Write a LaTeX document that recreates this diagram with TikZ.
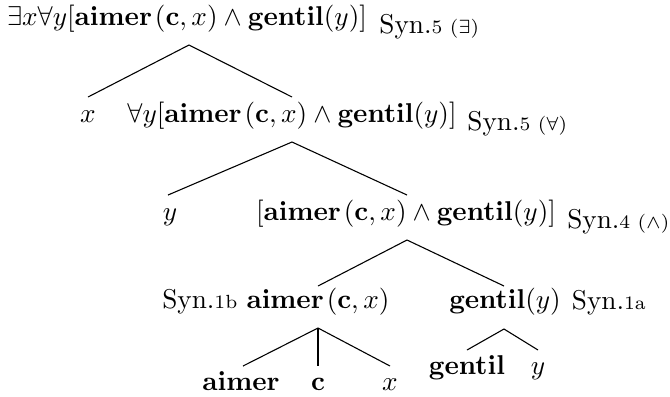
\documentclass[tikz,border=0pt]{standalone}
\newcommand{\aim}{\mathbf{aimer}\mkern2mu}
\begin{document}
\begin{tikzpicture}[x=0.3676pt,y=-0.3676pt,
  tx/.style={inner sep=0pt,anchor=base},
  lab/.style={inner sep=0pt},
  br/.style={line width=0.4pt}]
\useasboundingbox (0,0) rectangle (670,396);
% level 1
\node[tx] (root) at (187,25) {$\exists x\forall y[\aim(\mathbf{c},x)\wedge\mathbf{gentil}(y)]$};
\node[lab,anchor=base west] (l1) at ([xshift=4.2pt,yshift=-3pt]root.base east) {Syn.{\scriptsize 5 ($\exists$)}};
% level 2
\node[tx] (x2) at (88,122) {$x$};
\node[tx] (f2) at (292,122) {$\forall y[\aim(\mathbf{c},x)\wedge\mathbf{gentil}(y)]$};
\node[lab,anchor=base west] (l2) at ([xshift=3.6pt,yshift=-3pt]f2.base east) {Syn.{\scriptsize 5 ($\forall$)}};
% level 3
\node[tx] (y3) at (170,220) {$y$};
\node[tx] (f3) at (406,220) {$[\aim(\mathbf{c},x)\wedge\mathbf{gentil}(y)]$};
\node[lab,anchor=base west] (l3) at ([xshift=3.8pt,yshift=-3pt]f3.base east) {Syn.{\scriptsize 4 ($\wedge$)}};
% level 4
\node[tx] (ac) at (318,308) {$\aim(\mathbf{c},x)$};
\node[lab,anchor=base east] (l4a) at ([xshift=-3pt]ac.base west) {Syn.{\scriptsize 1b}};
\node[tx] (gy) at (505,308) {$\mathbf{gentil}(y)$};
\node[lab,anchor=base west] (l4b) at ([xshift=3.7pt,yshift=-0.5pt]gy.base east) {Syn.{\scriptsize 1a}};
% level 5
\node[tx] (a5) at (241,390) {$\mathbf{aimer}$};
\node[tx] (c5) at (318,390) {$\mathbf{c}$};
\node[tx] (x5) at (390,390) {$x$};
\node[tx] (g5) at (467,374) {$\mathbf{gentil}$};
\node[tx] (y5) at (538,374) {$y$};
% branch points
\coordinate (rootb) at (189,45);
\coordinate (x2t) at (88,97);
\coordinate (f2t) at (292,97);
\coordinate (f2b) at (292,142);
\coordinate (y3t) at (168,195);
\coordinate (f3t) at (407,195);
\coordinate (f3b) at (407,240);
\coordinate (act) at (318,286);
\coordinate (gyt) at (504,286);
\coordinate (acb) at (318,328);
\coordinate (a5t) at (243,366);
\coordinate (c5t) at (318,366);
\coordinate (x5t) at (390,366);
\coordinate (gyb) at (504,329);
\coordinate (g5t) at (467,350);
\coordinate (y5t) at (538,350);
\draw[br] (x2t) -- (rootb) -- (f2t);
\draw[br] (y3t) -- (f2b) -- (f3t);
\draw[br] (act) -- (f3b) -- (gyt);
\draw[br] (a5t) -- (acb) -- (x5t);
\draw[br] (acb) -- (c5t);
\draw[br] (g5t) -- (gyb) -- (y5t);
\end{tikzpicture}
\end{document}
